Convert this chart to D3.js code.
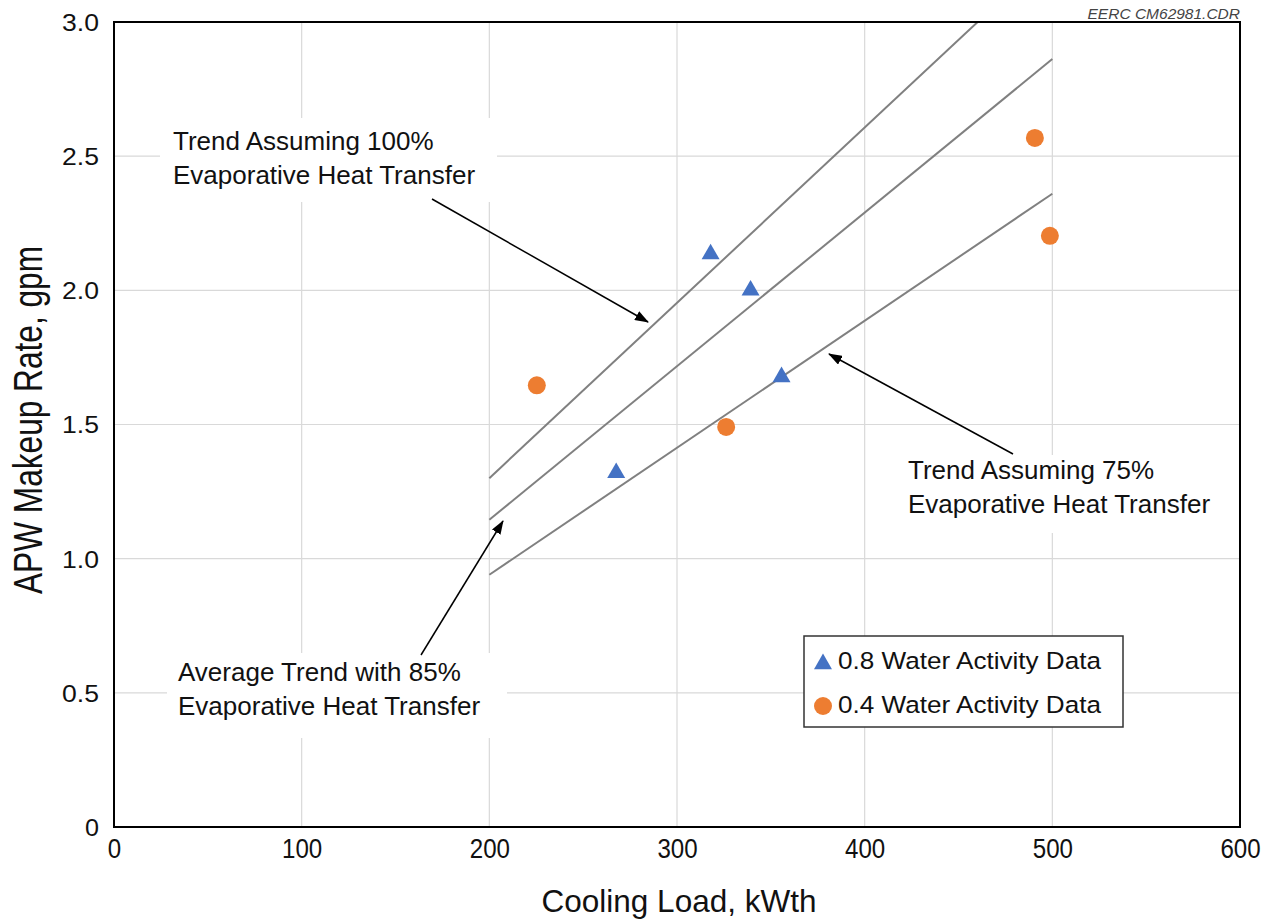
<!DOCTYPE html>
<html>
<head>
<meta charset="utf-8">
<script src="https://cdn.jsdelivr.net/npm/d3@7"></script>
<style>
  html, body { margin: 0; padding: 0; background: #ffffff; }
  svg { display: block; font-family: "Liberation Sans", Arial, sans-serif; }
</style>
</head>
<body>
<svg id="chart" width="1270" height="920"></svg>
<script>
// ---------- data ----------
const xTicks = [0, 100, 200, 300, 400, 500, 600];
const yTicks = [0, 0.5, 1.0, 1.5, 2.0, 2.5, 3.0];

// 0.8 Water Activity Data (triangles)
const triX = [267.6, 317.9, 339.2, 355.7];
const triY = [1.32, 2.135, 2.00, 1.677];

// 0.4 Water Activity Data (circles)
const circX = [225.3, 326.2, 490.7, 498.7];
const circY = [1.646, 1.491, 2.568, 2.203];

// Trend lines
const trendX = [200, 500];
const trend100 = [1.30, 3.26];
const trend85 = [1.145, 2.862];
const trend75 = [0.94, 2.36];

const legendLabels = ["0.8 Water Activity Data", "0.4 Water Activity Data"];
const xTitle = "Cooling Load, kWth";
const yTitle = "APW Makeup Rate, gpm";
const stamp = "EERC CM62981.CDR";

// ---------- layout ----------
const svg = d3.select("#chart");
const L = 114, R = 1240, T = 22, B = 827;
const x = d3.scaleLinear().domain([0, 600]).range([L, R]);
const y = d3.scaleLinear().domain([0, 3]).range([B, T]);

const BLUE = "#4472C4", ORANGE = "#ED7D31";

const defs = svg.append("defs");
defs.append("clipPath").attr("id", "plotclip")
  .append("rect").attr("x", L).attr("y", T).attr("width", R - L).attr("height", B - T);
defs.append("marker")
  .attr("id", "arrowhead")
  .attr("markerUnits", "userSpaceOnUse")
  .attr("markerWidth", 14).attr("markerHeight", 10)
  .attr("refX", 13).attr("refY", 5)
  .attr("orient", "auto")
  .append("path").attr("d", "M0,0 L14,5 L0,10 Z").attr("fill", "#000");

// gridlines
const grid = svg.append("g");
grid.selectAll("line.vx").data(xTicks.filter(d => d > 0 && d < 600)).join("line")
  .attr("x1", d => x(d)).attr("x2", d => x(d)).attr("y1", T).attr("y2", B)
  .attr("stroke", "#d9d9d9").attr("stroke-width", 1.2);
grid.selectAll("line.hy").data(yTicks.filter(d => d > 0 && d < 3)).join("line")
  .attr("x1", L).attr("x2", R).attr("y1", d => y(d)).attr("y2", d => y(d))
  .attr("stroke", "#d9d9d9").attr("stroke-width", 1.2);

// annotation boxes (white, mask grid)
const annotations = [
  { lines: ["Trend Assuming 100%", "Evaporative Heat Transfer"], box: [160, 118, 337, 84], tx: 173, ty: 150,
    arrow: [432, 199, 648, 322] },
  { lines: ["Average Trend with 85%", "Evaporative Heat Transfer"], box: [167, 653, 340, 85], tx: 178, ty: 681,
    arrow: [421, 655, 503, 521] },
  { lines: ["Trend Assuming 75%", "Evaporative Heat Transfer"], box: [895, 455, 330, 78], tx: 908, ty: 479,
    arrow: [1013, 454, 829, 354] }
];
svg.append("g").selectAll("rect").data(annotations).join("rect")
  .attr("x", d => d.box[0]).attr("y", d => d.box[1])
  .attr("width", d => d.box[2]).attr("height", d => d.box[3])
  .attr("fill", "#ffffff");

// trend lines
const lineGen = d3.line().x(d => x(d[0])).y(d => y(d[1]));
const trends = [trend100, trend85, trend75];
svg.append("g").attr("clip-path", "url(#plotclip)")
  .selectAll("path").data(trends).join("path")
  .attr("d", t => lineGen(trendX.map((xv, i) => [xv, t[i]])))
  .attr("fill", "none").attr("stroke", "#808080").attr("stroke-width", 2);

// markers
const triSym = d3.symbol().type(d3.symbolTriangle).size(140);
svg.append("g").selectAll("path").data(triX.map((v, i) => [v, triY[i]])).join("path")
  .attr("d", triSym)
  .attr("transform", d => `translate(${x(d[0])},${y(d[1])})`)
  .attr("fill", BLUE);
svg.append("g").selectAll("circle").data(circX.map((v, i) => [v, circY[i]])).join("circle")
  .attr("cx", d => x(d[0])).attr("cy", d => y(d[1])).attr("r", 9)
  .attr("fill", ORANGE);

// plot border
svg.append("rect").attr("x", L).attr("y", T).attr("width", R - L).attr("height", B - T)
  .attr("fill", "none").attr("stroke", "#000").attr("stroke-width", 2);

// arrows
svg.append("g").selectAll("line").data(annotations).join("line")
  .attr("x1", d => d.arrow[0]).attr("y1", d => d.arrow[1])
  .attr("x2", d => d.arrow[2]).attr("y2", d => d.arrow[3])
  .attr("stroke", "#000").attr("stroke-width", 1.5)
  .attr("marker-end", "url(#arrowhead)");

// annotation text
const annG = svg.append("g");
annotations.forEach(a => {
  a.lines.forEach((ln, i) => {
    annG.append("text").attr("x", a.tx).attr("y", a.ty + i * 34)
      .attr("font-size", 26).attr("fill", "#111").text(ln);
  });
});

// axes
const xAxis = d3.axisBottom(x).tickValues(xTicks).tickSize(0).tickFormat(d => String(d));
const gx = svg.append("g").attr("transform", `translate(0,${B})`).call(xAxis);
gx.select(".domain").remove();
gx.selectAll("text")
  .attr("y", 31).attr("dy", 0)
  .attr("font-size", 27).attr("font-family", "Liberation Sans, Arial, sans-serif")
  .attr("fill", "#111")
  .attr("textLength", d => String(d).length * 13.4)
  .attr("lengthAdjust", "spacingAndGlyphs");

const yAxis = d3.axisLeft(y).tickValues(yTicks).tickSize(0)
  .tickFormat(d => d === 0 ? "0" : d.toFixed(1));
const gy = svg.append("g").attr("transform", `translate(${L},0)`).call(yAxis);
gy.select(".domain").remove();
gy.selectAll("text")
  .attr("x", -15).attr("dy", "0.36em")
  .attr("font-size", 23.5).attr("font-family", "Liberation Sans, Arial, sans-serif")
  .attr("fill", "#111")
  .attr("textLength", d => (d === 0 ? 1 : 3) * (d === 0 ? 14 : 12.3))
  .attr("lengthAdjust", "spacingAndGlyphs");

// axis titles
svg.append("text").attr("x", (L + R) / 2 + 2).attr("y", 912)
  .attr("text-anchor", "middle").attr("font-size", 31.5).attr("fill", "#111")
  .text(xTitle);
svg.append("text")
  .attr("transform", "translate(42,420) rotate(-90)")
  .attr("text-anchor", "middle").attr("font-size", 40).attr("fill", "#111")
  .attr("textLength", 348).attr("lengthAdjust", "spacingAndGlyphs")
  .text(yTitle);

// stamp
svg.append("text").attr("x", 1240).attr("y", 19).attr("text-anchor", "end")
  .attr("font-size", 15.5).attr("font-style", "italic").attr("fill", "#444")
  .text(stamp);

// legend
const lg = svg.append("g");
lg.append("rect").attr("x", 804).attr("y", 636).attr("width", 319).attr("height", 91)
  .attr("fill", "#fff").attr("stroke", "#333").attr("stroke-width", 1.5);
lg.append("path").attr("d", triSym).attr("transform", "translate(823,664)").attr("fill", BLUE);
lg.append("circle").attr("cx", 823).attr("cy", 706).attr("r", 9).attr("fill", ORANGE);
legendLabels.forEach((t, i) => {
  lg.append("text").attr("x", 838).attr("y", 669 + i * 44)
    .attr("font-size", 24.5).attr("fill", "#111")
    .attr("textLength", 263).attr("lengthAdjust", "spacingAndGlyphs")
    .text(t);
});
</script>
</body>
</html>
